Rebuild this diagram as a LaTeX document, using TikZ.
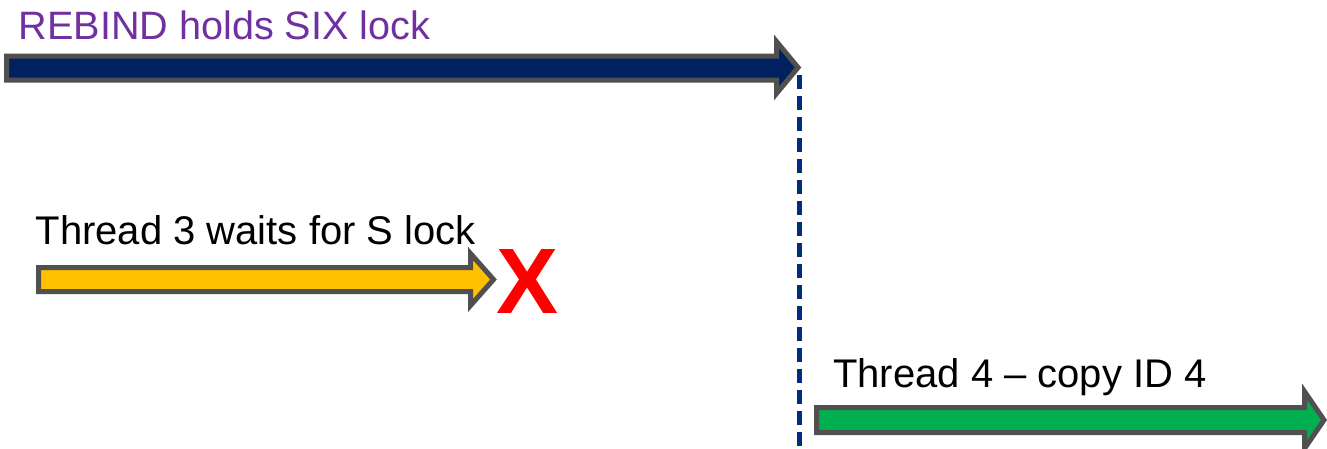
\documentclass[tikz,border=0pt]{standalone}
\usepackage{fontspec}
\setmainfont{Liberation Sans}
\definecolor{bordergray}{RGB}{80,80,80}
\definecolor{navyfill}{RGB}{0,32,96}
\definecolor{yellowfill}{RGB}{255,192,0}
\definecolor{greenfill}{RGB}{0,176,80}
\definecolor{purpletext}{RGB}{112,48,160}
\definecolor{dashblue}{RGB}{0,45,130}
\definecolor{redx}{RGB}{255,0,0}
\tikzset{
  fatarrow/.style={draw=bordergray, line width=5pt, line join=miter, miter limit=10},
  label39/.style={anchor=base west, inner sep=0pt, font=\fontsize{39.6}{39.6}\selectfont},
  label40/.style={anchor=base west, inner sep=0pt, font=\fontsize{40}{40}\selectfont},
  sepline/.style={draw=dashblue, line width=4.6pt, dash pattern=on 14pt off 7pt}
}
\begin{document}
\begin{tikzpicture}[x=1pt,y=-1pt]
\useasboundingbox (0,0) rectangle (1327,448);
% top arrow
\fill[fatarrow, fill=navyfill] (6.5,56) -- (776.5,56) -- (776.5,41.5) -- (798,67.5) -- (776.5,93.5) -- (776.5,80) -- (6.5,80) -- cycle;
\node[label39, text=purpletext] (rebind) at (18.5,39.3) {REBIND holds SIX lock};
% dashed separator
\coordinate (dtop) at (799.3,75);
\coordinate (dbot) at (799.3,448);
\draw[sepline] (dtop) -- (dbot);
% yellow arrow
\fill[fatarrow, fill=yellowfill] (38.5,267.5) -- (470.5,267.5) -- (470.5,253.5) -- (493.5,279.5) -- (470.5,305.5) -- (470.5,291.5) -- (38.5,291.5) -- cycle;
\node[label40] (t3) at (35.5,244.5) {Thread 3 waits for S lock};
\node[anchor=base, inner sep=0pt, text=redx, font=\fontsize{93}{93}\selectfont\bfseries] (x) at (527.5,313) {X};
% green arrow
\fill[fatarrow, fill=greenfill] (816.5,407.5) -- (1304.5,407.5) -- (1304.5,391.5) -- (1324,420) -- (1304.5,448.5) -- (1304.5,432.5) -- (816.5,432.5) -- cycle;
\node[label40] (t4) at (833,387.3) {Thread 4 -- copy ID 4};
\end{tikzpicture}
\end{document}
